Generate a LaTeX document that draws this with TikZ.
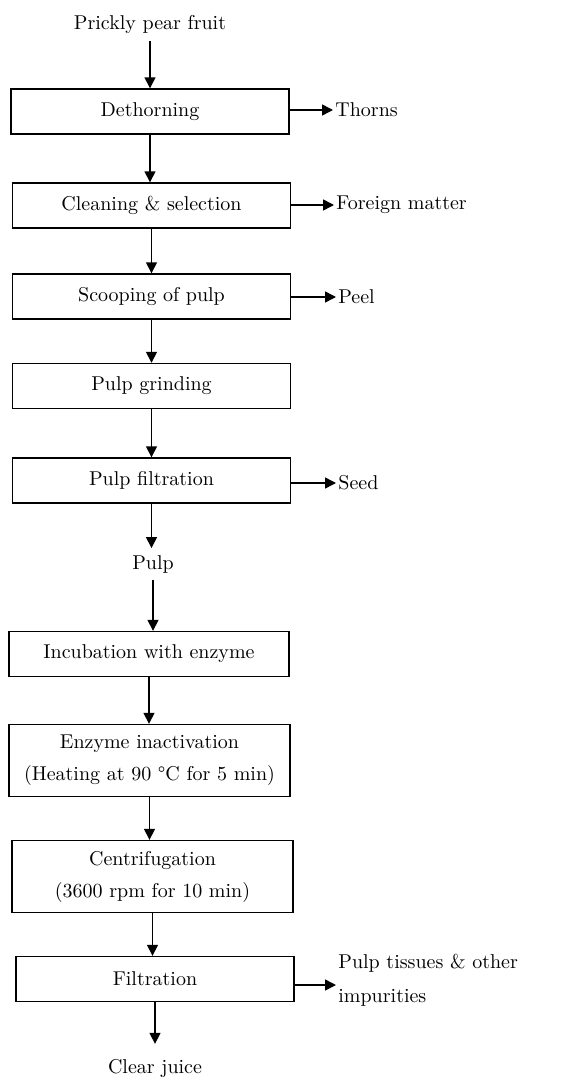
\documentclass[tikz,border=0pt]{standalone}
\usepackage{tikz}
\usetikzlibrary{arrows.meta, positioning}
\tikzset{>={Triangle[length=5.5pt,width=5.5pt]}}

\begin{document}
\begin{tikzpicture}[x=0.5pt, y=-0.5pt,
    stepbox/.style={draw, line width=0.7pt, minimum width=139pt, minimum height=22.5pt, align=center, inner sep=2pt},
    twobox/.style={stepbox, minimum height=36pt},
    waste/.style={anchor=west, inner sep=1pt, align=left},
    flow/.style={->, line width=0.75pt}]
			\useasboundingbox (0,0) rectangle (573,1081);
			% main line
			\node (fruit) at (150,25) {Prickly pear fruit};
			\node[stepbox] (dethorn) at (150,111.5) {Dethorning};
			\node[stepbox] (clean) at (151.5,205.5) {Cleaning \& selection};
			\node[stepbox] (scoop) at (151.5,296.5) {Scooping of pulp};
			\node[stepbox] (grind) at (151.5,386) {Pulp grinding};
			\node[stepbox] (pfilt) at (151.5,480.5) {Pulp filtration};
			\node (pulp) at (153,564) {Pulp};
			\node[stepbox, minimum width=140pt] (incub) at (149,654) {Incubation with enzyme};
			\node[twobox, minimum width=140.5pt] (inact) at (149.5,760.5) {Enzyme inactivation\\[4pt](Heating at 90 \textdegree C for 5 min)};
			\node[twobox, minimum width=140.5pt] (centri) at (152.5,876.5) {Centrifugation\\[4pt](3600 rpm for 10 min)};
			\node[stepbox] (filt) at (155,979) {Filtration};
			\node (juice) at (155,1068) {Clear juice};
			% side outputs
			\node[waste] (thorns) at (333,110) {Thorns};
			\node[waste] (foreign) at (334,205) {Foreign matter};
			\node[waste] (peel) at (336,297) {Peel};
			\node[waste] (seed) at (336,483) {Seed};
			\node[waste] (tissue) at (336,980) {Pulp tissues \& other\\[5pt]impurities};
			% arrows
			\draw[flow] (fruit.south) -- (fruit.south |- dethorn.north);
			\draw[flow] (dethorn.south) -- (dethorn.south |- clean.north);
			\draw[flow] (clean.south) -- (clean.south |- scoop.north);
			\draw[flow] (scoop.south) -- (scoop.south |- grind.north);
			\draw[flow] (grind.south) -- (grind.south |- pfilt.north);
			\draw[flow] (pfilt.south) -- (pfilt.south |- pulp.north);
			\draw[flow] (pulp.south) -- (pulp.south |- incub.north);
			\draw[flow] (incub.south) -- (incub.south |- inact.north);
			\draw[flow] (inact.south) -- (inact.south |- centri.north);
			\draw[flow] (centri.south) -- (centri.south |- filt.north);
			\draw[flow, shorten >=4pt] (filt.south) -- (filt.south |- juice.north);
			\draw[flow] (dethorn.east |- thorns.west) -- (thorns.west);
			\draw[flow] (clean.east |- foreign.west) -- (foreign.west);
			\draw[flow] (scoop.east |- peel.west) -- (peel.west);
			\draw[flow] (pfilt.east |- seed.west) -- (seed.west);
			\draw[flow] (filt.east |- 0,985) -- (tissue.west |- 0,985);
		\end{tikzpicture}
\end{document}
